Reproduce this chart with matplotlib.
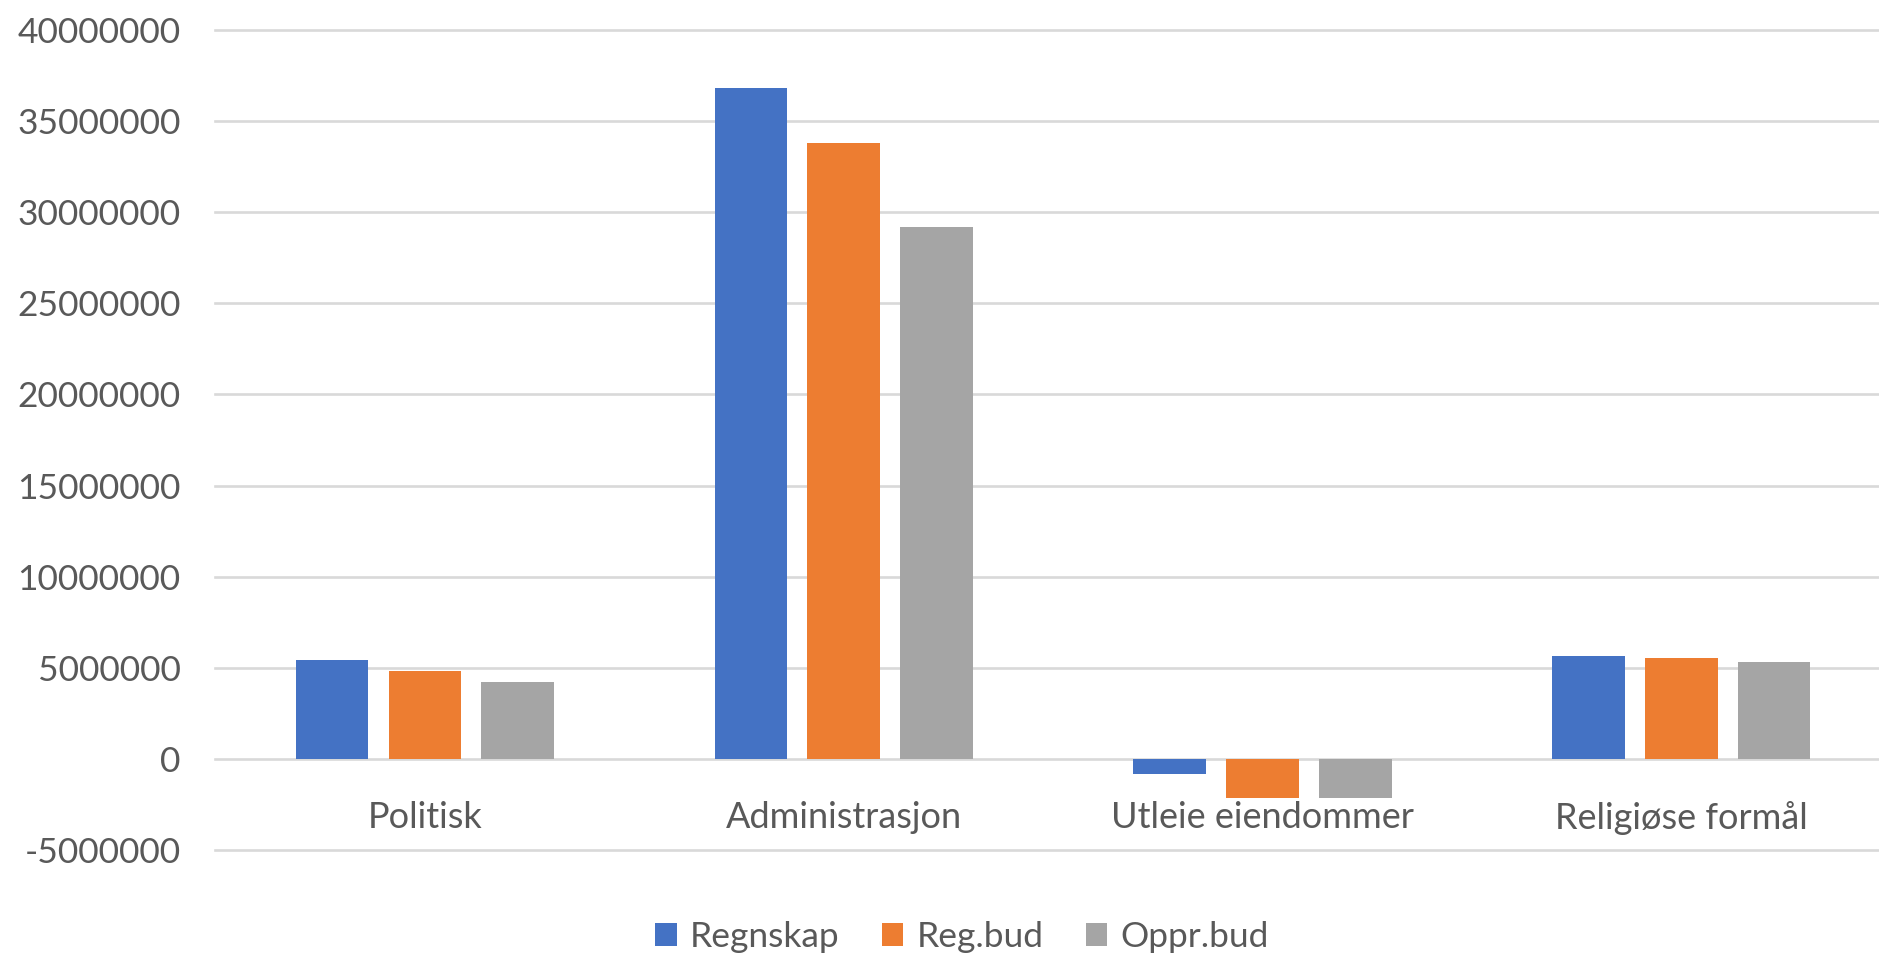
import matplotlib
matplotlib.use("Agg")
import matplotlib.pyplot as plt
import numpy as np

# data
categories = ["Politisk", "Administrasjon", "Utleie eiendommer", "Religiøse formål"]
series_names = ["Regnskap", "Reg.bud", "Oppr.bud"]
regnskap = [5450000, 36800000, -850000, 5650000]
reg_bud = [4800000, 33800000, -2170000, 5520000]
oppr_bud = [4200000, 29200000, -2170000, 5320000]
colors = ["#4472C4", "#ED7D31", "#A5A5A5"]

plt.rcParams['font.family'] = ['Lato', 'DejaVu Sans']
text_col = "#595959"
fs = 25.5

fig = plt.figure(figsize=(18.79, 9.57), dpi=100)
ax = fig.add_axes([215.3 / 1879, 107 / 957, 1675.5 / 1879, 820 / 957])

x = np.arange(len(categories))
step = 0.2216
width = 0.173
for i, (vals, name) in enumerate(zip([regnskap, reg_bud, oppr_bud], series_names)):
    ax.bar(x + (i - 1) * step, vals, width, color=colors[i], label=name, zorder=3)

ax.set_xlim(-0.5, len(categories) - 0.5)
ax.set_ylim(-5000000, 40000000)
ax.set_yticks(np.arange(-5000000, 40000001, 5000000))
ax.yaxis.set_major_formatter(matplotlib.ticker.FuncFormatter(lambda v, p: "%d" % v))
ax.grid(axis='y', color="#D9D9D9", linewidth=1.9, zorder=0)
ax.set_axisbelow(True)
for gl in ax.get_ygridlines():
    gl.set_clip_on(False)

for s in ax.spines.values():
    s.set_visible(False)
ax.spines['bottom'].set_position(('data', 0))
ax.set_xticks(x)
ax.set_xticklabels(categories)
ax.tick_params(axis='x', length=0, pad=30, labelsize=fs + 0.5, labelcolor=text_col)
ax.tick_params(axis='y', length=0, pad=25, labelsize=fs, labelcolor=text_col)

leg = fig.legend(loc='center', bbox_to_anchor=(962 / 1879, 20 / 957), ncol=3,
                 frameon=False, fontsize=fs, handlelength=0.6, handleheight=0.6,
                 handletextpad=0.37, columnspacing=1.2)
for t in leg.get_texts():
    t.set_color(text_col)

fig.savefig("out.png", dpi=100, facecolor="white")
